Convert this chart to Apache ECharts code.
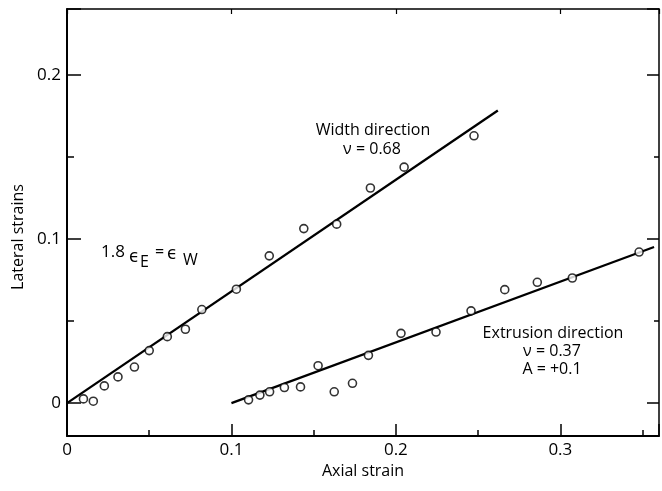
<!DOCTYPE html>
<html>
<head>
<meta charset="utf-8">
<script src="https://cdn.jsdelivr.net/npm/echarts@6/dist/echarts.min.js"></script>
<style>
  html, body { margin: 0; padding: 0; background: #fff; }
  #chart { width: 662px; height: 491px; }
</style>
</head>
<body>
<div id="chart"></div>
<script>
// Measured strains, each pair is [axial strain, lateral strain]
const widthPoints = [
  [0.010, 0.0026], [0.016, 0.0012], [0.0227, 0.0105], [0.031, 0.016],
  [0.041, 0.022], [0.050, 0.032], [0.061, 0.0405], [0.072, 0.045],
  [0.082, 0.057], [0.103, 0.0694], [0.123, 0.0897], [0.144, 0.1063],
  [0.164, 0.109], [0.1845, 0.131], [0.205, 0.1437], [0.2475, 0.1628]
];
const extrusionPoints = [
  [0.1104, 0.0020], [0.1173, 0.0049], [0.1232, 0.0069], [0.1322, 0.0095],
  [0.1420, 0.0099], [0.1527, 0.0228], [0.1625, 0.0069], [0.1736, 0.0121],
  [0.1833, 0.0291], [0.2031, 0.0425], [0.2244, 0.0433], [0.2457, 0.0562],
  [0.2662, 0.0691], [0.2860, 0.0736], [0.3073, 0.0762], [0.3479, 0.0920]
];

// Poisson ratios of the two fitted lines and the axial range each spans
const widthNu = 0.68;
const widthFitRange = [0, 0.262];
const extrusionNu = 0.37;
const extrusionFitRange = [0.1, 0.357];

// Axis tick labels (major ticks every 0.1, short ticks every 0.05)
const xTickLabels = [0, 0.1, 0.2, 0.3];
const yTickLabels = [0, 0.1, 0.2];
const MAJOR_STEP = 0.1;
const MINOR_STEP = 0.05;

const widthFit = widthFitRange.map(x => [x, widthNu * x]);
const extrusionFit = extrusionFitRange.map(x => [x, extrusionNu * (x - extrusionFitRange[0])]);

const FONT = '"Open Sans", "DejaVu Sans", sans-serif';
const X_RANGE = { min: 0, max: 0.36 };
const Y_RANGE = { min: -0.02, max: 0.24 };

function labelFormatter(list) {
  return v => {
    const hit = list.find(t => Math.abs(t - v) < 1e-9);
    return hit === undefined ? '' : (hit === 0 ? '0' : String(hit));
  };
}

// One tick ring on one side of the frame; the step fixes the tick spacing
function tickAxis(range, position, step, tickLength, lineWidth, frameWidth, labels) {
  return {
    type: 'value',
    position: position,
    min: range.min,
    max: range.max,
    minInterval: step,
    maxInterval: step,
    splitLine: { show: false },
    axisLine: {
      show: frameWidth > 0, onZero: false,
      lineStyle: { color: '#000', width: frameWidth || 1 }
    },
    axisTick: {
      show: true, inside: true, length: tickLength,
      lineStyle: { color: '#000', width: lineWidth }
    },
    axisLabel: labels ? {
      show: true, formatter: labelFormatter(labels), showMinLabel: true, showMaxLabel: true,
      color: '#000', fontFamily: FONT, fontSize: 17, margin: 6
    } : { show: false }
  };
}

const chart = echarts.init(document.getElementById('chart'), null, { renderer: 'canvas' });

const xMain = tickAxis(X_RANGE, 'bottom', MAJOR_STEP, 12, 1.5, 2, xTickLabels);
xMain.name = 'Axial strain';
xMain.nameLocation = 'middle';
xMain.nameGap = 26;
xMain.nameTextStyle = { color: '#000', fontFamily: FONT, fontSize: 16 };

function note(text, x, y, size) {
  return {
    type: 'text', x: x, y: y,
    style: { text: text, font: size + 'px ' + FONT, fill: '#000', align: 'center', verticalAlign: 'middle' }
  };
}
function piece(text, x, y, size) {
  return {
    type: 'text', x: x, y: y,
    style: { text: text, font: size + 'px ' + FONT, fill: '#000', align: 'left', verticalAlign: 'middle' }
  };
}

const option = {
  animation: false,
  backgroundColor: '#fff',
  grid: { left: 67, right: 1, top: 9, bottom: 55, containLabel: false },
  xAxis: [
    xMain,
    tickAxis(X_RANGE, 'bottom', MINOR_STEP, 6, 1.5, 0, null),
    tickAxis(X_RANGE, 'top', MAJOR_STEP, 5, 1.2, 1.5, null)
  ],
  yAxis: [
    tickAxis(Y_RANGE, 'left', MAJOR_STEP, 14, 1.5, 2, yTickLabels),
    tickAxis(Y_RANGE, 'left', MINOR_STEP, 7, 1.5, 0, null),
    tickAxis(Y_RANGE, 'right', MAJOR_STEP, 12, 1.5, 1.5, null),
    tickAxis(Y_RANGE, 'right', MINOR_STEP, 5, 1.5, 0, null)
  ],
  series: [
    {
      name: 'Width fit', type: 'line', data: widthFit, showSymbol: false, symbol: 'none',
      lineStyle: { color: '#000', width: 2.3 }, z: 2, silent: true
    },
    {
      name: 'Extrusion fit', type: 'line', data: extrusionFit, showSymbol: false, symbol: 'none',
      lineStyle: { color: '#000', width: 2.3 }, z: 2, silent: true
    },
    {
      name: 'Width direction', type: 'scatter', data: widthPoints, symbol: 'circle', symbolSize: 8,
      itemStyle: { color: '#fff', borderColor: '#000', borderWidth: 1.6 }, z: 3
    },
    {
      name: 'Extrusion direction', type: 'scatter', data: extrusionPoints, symbol: 'circle', symbolSize: 8,
      itemStyle: { color: '#fff', borderColor: '#000', borderWidth: 1.6 }, z: 3
    }
  ],
  graphic: [
    { type: 'text', x: 18, y: 237, rotation: Math.PI / 2,
      style: { text: 'Lateral strains', font: '16px ' + FONT, fill: '#000', align: 'center', verticalAlign: 'middle' } },
    note('Width direction', 373, 130, 16),
    note('ν = 0.68', 372, 149, 16),
    note('Extrusion direction', 553, 333, 16),
    note('ν = 0.37', 552, 351, 16),
    note('A = +0.1', 552, 369, 16),
    // 1.8 ϵ_E = ϵ_W
    piece('1.8', 101, 252, 17),
    piece('ϵ', 129, 257, 17),
    piece('E', 140, 262, 16),
    piece('=', 155, 252, 16),
    piece('ϵ', 167, 254, 17),
    piece('W', 183, 260, 16)
  ]
};

chart.setOption(option);
</script>
</body>
</html>
